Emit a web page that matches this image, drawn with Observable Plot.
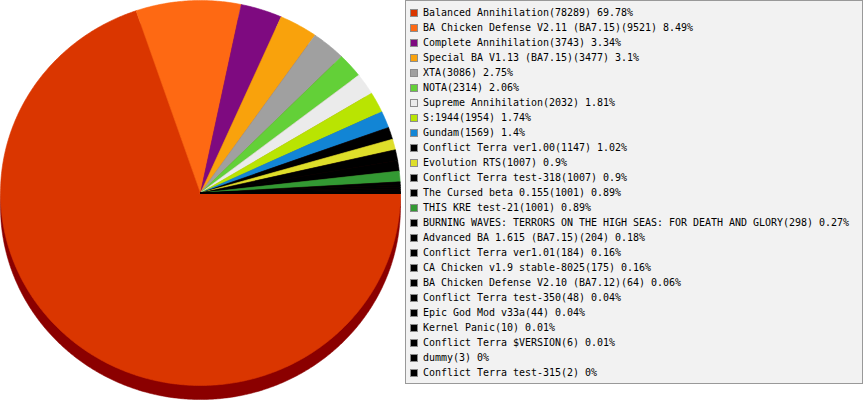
<!DOCTYPE html>
<html>
<head>
<meta charset="utf-8">
<script src="https://cdn.jsdelivr.net/npm/d3@7"></script>
<script src="https://cdn.jsdelivr.net/npm/@observablehq/plot@0.6"></script>
<style>
  html, body { margin: 0; padding: 0; background: #ffffff; }
  #wrap { position: relative; width: 863px; height: 400px; overflow: hidden; }
  #chart { position: absolute; left: 0; top: 0; }
  #legend {
    position: absolute; left: 405px; top: 0px; width: 456px; height: 382px;
    background: #f2f2f2; border: 1px solid #999999; box-sizing: content-box;
    font-family: "DejaVu Sans Mono", monospace; font-size: 9.97px; color: #000;
    padding: 4px 0 0 4px; box-sizing: border-box; width: 458px; height: 384px;
  }
  .row { height: 15px; line-height: 15px; white-space: nowrap; display: flex; align-items: center; }
  .sw { width: 6px; height: 6px; border: 1px solid #8c8c8c; margin-right: 5px; flex: none; }
</style>
</head>
<body>
<div id="wrap">
  <div id="chart"></div>
  <div id="legend"></div>
</div>
<script>
const names = [
  "Balanced Annihilation",
  "BA Chicken Defense V2.11 (BA7.15)",
  "Complete Annihilation",
  "Special BA V1.13 (BA7.15)",
  "XTA",
  "NOTA",
  "Supreme Annihilation",
  "S:1944",
  "Gundam",
  "Conflict Terra ver1.00",
  "Evolution RTS",
  "Conflict Terra test-318",
  "The Cursed beta 0.155",
  "THIS KRE test-21",
  "BURNING WAVES: TERRORS ON THE HIGH SEAS: FOR DEATH AND GLORY",
  "Advanced BA 1.615 (BA7.15)",
  "Conflict Terra ver1.01",
  "CA Chicken v1.9 stable-8025",
  "BA Chicken Defense V2.10 (BA7.12)",
  "Conflict Terra test-350",
  "Epic God Mod v33a",
  "Kernel Panic",
  "Conflict Terra $VERSION",
  "dummy",
  "Conflict Terra test-315"
];
const counts = [78289, 9521, 3743, 3477, 3086, 2314, 2032, 1954, 1569, 1147, 1007, 1007, 1001, 1001, 298, 204, 184, 175, 64, 48, 44, 10, 6, 3, 2];
const colors = [
  "#da3600", "#fe6913", "#7e0a80", "#f9a20c", "#a0a0a0", "#63d038", "#ebebeb",
  "#b9e402", "#1285d5", "#000000", "#dede2a", "#000000", "#000000", "#339933",
  "#000000", "#000000", "#000000", "#000000", "#000000", "#000000", "#000000",
  "#000000", "#000000", "#000000", "#000000"
];
const sideColor = "#8b0000";
const depth = 0.073; // pie thickness in radius units

const total = d3.sum(counts);
const ends = d3.cumsum(counts).map(v => v / total);
const starts = [0, ...ends.slice(0, -1)];

// Build slice polygons (unit circle, y up) — clockwise on screen from 3 o'clock
const slices = [];
names.forEach((name, i) => {
  const a0 = starts[i] * 2 * Math.PI, a1 = ends[i] * 2 * Math.PI;
  const n = Math.max(2, Math.ceil((a1 - a0) / (Math.PI / 360)));
  slices.push({name, color: colors[i], x: 0, y: 0});
  for (let k = 0; k <= n; ++k) {
    const t = a0 + (a1 - a0) * k / n;
    slices.push({name, color: colors[i], x: Math.cos(-t), y: Math.sin(-t)});
  }
});
const side = d3.range(0, 721).map(k => {
  const t = k / 720 * 2 * Math.PI;
  return {name: "side", x: Math.cos(t), y: Math.sin(t) - depth};
});

const chart = Plot.plot({
  width: 863,
  height: 400,
  margin: 0,
  x: {domain: [-1, 1], range: [0, 400], axis: null},
  y: {domain: [-1, 1], range: [385, 0], axis: null},
  color: {type: "identity"},
  marks: [
    Plot.line(side, {x: "x", y: "y", z: "name", fill: sideColor, stroke: sideColor, strokeWidth: 0.5, curve: "linear-closed"}),
    Plot.line(slices, {x: "x", y: "y", z: "name", fill: "color", stroke: "color", strokeWidth: 0.6, curve: "linear-closed"})
  ]
});
document.getElementById("chart").append(chart);

const fmt = v => String(Math.round(v / total * 10000) / 100);
const legend = document.getElementById("legend");
names.forEach((name, i) => {
  const row = document.createElement("div");
  row.className = "row";
  const sw = document.createElement("span");
  sw.className = "sw";
  sw.style.background = colors[i];
  const tx = document.createElement("span");
  tx.textContent = `${name}(${counts[i]}) ${fmt(counts[i])}%`;
  row.append(sw, tx);
  legend.append(row);
});
</script>
</body>
</html>
